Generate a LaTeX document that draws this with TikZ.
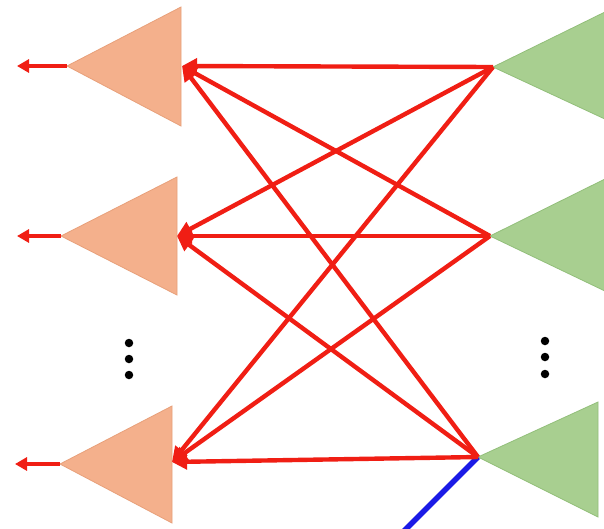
\documentclass[tikz,border=0pt]{standalone}
\usetikzlibrary{arrows.meta}
\definecolor{orangefill}{HTML}{F4B08C}
\definecolor{orangeedge}{HTML}{E8A07A}
\definecolor{greenfill}{HTML}{A8CF90}
\definecolor{greenedge}{HTML}{92BF7A}
\definecolor{redline}{HTML}{F01E14}
\definecolor{blueline}{HTML}{1A1AE6}
\tikzset{
  otri/.style={fill=orangefill, draw=orangeedge, line width=0.8pt, line join=miter},
  gtri/.style={fill=greenfill, draw=greenedge, line width=0.8pt},
  conn/.style={draw=redline, line width=4.4pt, -{Triangle[length=15pt,width=15pt]}},
  outarrow/.style={draw=redline, line width=3.8pt, -{Triangle[length=12pt,width=13pt]}},
  dotmark/.style={circle, fill=black, inner sep=0pt, minimum size=8.5pt}
}
\begin{document}
\begin{tikzpicture}[x=1pt,y=-1pt]
\useasboundingbox (0,0) rectangle (604,528);
\fill[white] (0,0) rectangle (604,528);
% orange triangles (apex left)
\draw[otri] (67,66) -- (181,7) -- (181,126) -- cycle;
\draw[otri] (61,236) -- (177,177) -- (177,295) -- cycle;
\draw[otri] (60,464) -- (172,406) -- (172,523) -- cycle;
% green triangles (apex left)
\begin{scope}
\clip (0,0) rectangle (604,528);
\draw[gtri] (493,67) -- (607,11) -- (607,120) -- cycle;
\draw[gtri] (490,236) -- (607,178) -- (607,292) -- cycle;
\draw[gtri] (478,457) -- (598,402) -- (598,517) -- cycle;
\end{scope}
% named points
\coordinate (o1) at (182,66);
\coordinate (o2) at (177,236);
\coordinate (o3) at (172,462);
\coordinate (oa1) at (67,66);
\coordinate (oa2) at (61,236);
\coordinate (oa3) at (60,464);
\coordinate (x1) at (17,66);
\coordinate (x2) at (17,236);
\coordinate (x3) at (15,464);
\coordinate (g1) at (493,67);
\coordinate (g2) at (490,236);
\coordinate (g3) at (478,457);
\coordinate (b) at (400,535);
% blue line
\draw[blueline, line width=5.5pt] (g3) -- (b);
% connections
\foreach \g in {g1,g2,g3}{
  \foreach \o in {o1,o2,o3}{
    \draw[conn] (\g) -- (\o);
  }
}
% output arrows
\draw[outarrow] (oa1) -- (x1);
\draw[outarrow] (oa2) -- (x2);
\draw[outarrow] (oa3) -- (x3);
% dots
\node[dotmark] (l1) at (129,343) {};
\node[dotmark] (l2) at (129,359) {};
\node[dotmark] (l3) at (129,375) {};
\node[dotmark] (r1) at (545,341) {};
\node[dotmark] (r2) at (545,357) {};
\node[dotmark] (r3) at (545,374) {};
\end{tikzpicture}
\end{document}
